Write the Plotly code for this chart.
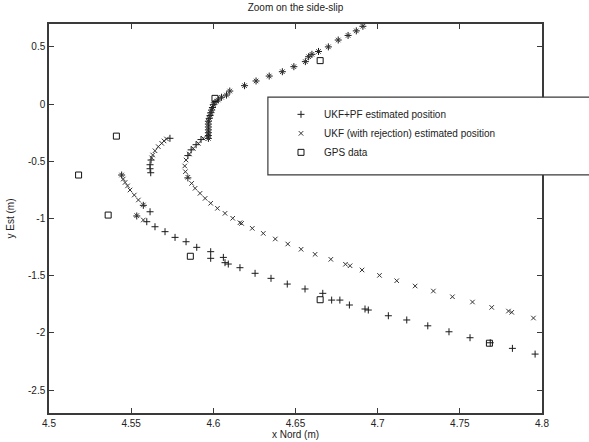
import plotly.graph_objects as go

# ---- data ----
top_x = [4.691, 4.687, 4.682, 4.676, 4.670, 4.664, 4.660, 4.658, 4.656, 4.649, 4.642,
         4.634, 4.626, 4.619, 4.610, 4.608, 4.605, 4.603, 4.601, 4.600, 4.5995, 4.599,
         4.5985, 4.598, 4.5975, 4.597, 4.597, 4.597, 4.597, 4.597, 4.597, 4.597]
top_y = [0.68, 0.64, 0.60, 0.56, 0.50, 0.46, 0.435, 0.414, 0.371, 0.327, 0.283,
         0.245, 0.202, 0.161, 0.114, 0.079, 0.06, 0.036, 0.016, -0.005, -0.03, -0.052,
         -0.075, -0.10, -0.125, -0.15, -0.175, -0.20, -0.225, -0.25, -0.275, -0.30]

ukfpf_x = top_x + [4.5925, 4.5895, 4.5865, 4.5845, 4.5845,
                   4.5736, 4.5621, 4.5615, 4.5615, 4.5619,
                   4.5442, 4.5574, 4.5615,
                   4.5534, 4.5595, 4.5645, 4.5706, 4.5767, 4.5834, 4.5899,
                   4.5984, 4.5984, 4.6061, 4.6071, 4.6091, 4.6162, 4.6254, 4.6351,
                   4.6450, 4.6558, 4.6666, 4.6720, 4.6770, 4.6828, 4.6923, 4.6943,
                   4.7065, 4.7177, 4.7305, 4.7434, 4.7562, 4.7685, 4.7820, 4.7958]
ukfpf_y = top_y + [-0.31, -0.355, -0.40, -0.45, -0.645,
                   -0.299, -0.489, -0.53, -0.565, -0.60,
                   -0.620, -0.885, -0.941,
                   -0.978, -1.028, -1.072, -1.115, -1.165, -1.203, -1.252,
                   -1.290, -1.348, -1.340, -1.386, -1.398, -1.430, -1.479, -1.523,
                   -1.573, -1.616, -1.654, -1.713, -1.713, -1.756, -1.791, -1.800,
                   -1.850, -1.887, -1.938, -1.990, -2.042, -2.086, -2.135, -2.185]

ukf_x = top_x + [4.5939, 4.5909, 4.5878, 4.5854, 4.5834, 4.5826, 4.5830, 4.5845,
                 4.5868, 4.5889, 4.5919, 4.5950, 4.5984, 4.6025, 4.6071, 4.6118,
                 4.6162, 4.6172, 4.6237, 4.6304, 4.6377, 4.6453, 4.6534, 4.6619,
                 4.6715, 4.6804, 4.6832, 4.6905, 4.7011, 4.7116, 4.7228, 4.7339,
                 4.7455, 4.7577, 4.7694, 4.7796, 4.7816, 4.7948,
                 4.5715, 4.5700, 4.5686, 4.5665, 4.5645, 4.5631, 4.5625,
                 4.5442, 4.5452, 4.5463, 4.5478, 4.5493, 4.5519, 4.5544, 4.5574,
                 4.5534, 4.5574]
ukf_y = top_y + [-0.299, -0.343, -0.387, -0.436, -0.489, -0.541, -0.591, -0.640,
                 -0.693, -0.736, -0.780, -0.824, -0.867, -0.911, -0.955, -0.998,
                 -1.037, -1.043, -1.086, -1.130, -1.179, -1.223, -1.269, -1.313,
                 -1.357, -1.400, -1.413, -1.450, -1.497, -1.544, -1.590, -1.634,
                 -1.684, -1.730, -1.777, -1.809, -1.820, -1.870,
                 -0.305, -0.322, -0.343, -0.372, -0.408, -0.445, -0.47,
                 -0.620, -0.655, -0.685, -0.715, -0.751, -0.795, -0.838, -0.882,
                 -0.975, -1.013]

gps_x = [4.518, 4.536, 4.541, 4.586, 4.601, 4.665, 4.665, 4.768]
gps_y = [-0.62, -0.97, -0.28, -1.33, 0.05, 0.38, -1.71, -2.09]

xticks = [4.5, 4.55, 4.6, 4.65, 4.7, 4.75, 4.8]
xticklabels = ["4.5", "4.55", "4.6", "4.65", "4.7", "4.75", "4.8"]
yticks = [-2.5, -2, -1.5, -1, -0.5, 0, 0.5]
yticklabels = ["-2.5", "-2", "-1.5", "-1", "-0.5", "0", "0.5"]

FONT = "Liberation Sans, Arial, sans-serif"

fig = go.Figure()
fig.add_trace(go.Scatter(x=ukfpf_x, y=ukfpf_y, mode="markers",
                         name="UKF+PF estimated position",
                         marker=dict(symbol="cross-thin", size=5,
                                     line=dict(width=1, color="#1a1a1a"))))
fig.add_trace(go.Scatter(x=ukf_x, y=ukf_y, mode="markers",
                         name="UKF (with rejection) estimated position",
                         marker=dict(symbol="x-thin", size=4.5,
                                     line=dict(width=1, color="#333333"))))
fig.add_trace(go.Scatter(x=gps_x, y=gps_y, mode="markers", name="GPS data",
                         marker=dict(symbol="square-open", size=6, color="#111111",
                                     line=dict(width=1, color="#111111"))))

axis_common = dict(showline=True, linecolor="#3a3a3a", linewidth=1.5, mirror="ticks",
                   ticks="inside", ticklen=5, tickcolor="#3a3a3a", tickwidth=1,
                   showgrid=False, zeroline=False,
                   tickfont=dict(family=FONT, size=10, color="#222"))

fig.update_layout(
    width=589, height=442,
    margin=dict(l=49, r=47, t=24, b=29),
    paper_bgcolor="white", plot_bgcolor="white",
    font=dict(family=FONT, size=10, color="#222"),
    title=dict(text="Zoom on the side-slip", x=0.5, xref="paper",
               y=0.982, yref="container", yanchor="middle",
               font=dict(family=FONT, size=10, color="#222")),
    xaxis=dict(range=[4.5, 4.8], tickvals=xticks, ticktext=xticklabels,
               title=dict(text="x Nord (m)", standoff=2,
                          font=dict(family=FONT, size=10, color="#222")),
               automargin=False, **axis_common),
    yaxis=dict(range=[-2.7, 0.7], tickvals=yticks, ticktext=yticklabels,
               title=dict(text="y Est (m)", standoff=12,
                          font=dict(family=FONT, size=10, color="#222")),
               automargin=False, **axis_common),
    showlegend=True,
    legend=dict(x=0.4645, y=0.805, xanchor="left", yanchor="top",
                bgcolor="rgba(0,0,0,0)", borderwidth=0,
                font=dict(family=FONT, size=10, color="#222"),
                itemwidth=36),
    shapes=[dict(type="rect", xref="paper", yref="paper",
                 x0=0.444, x1=1.2, y0=0.612, y1=0.812,
                 fillcolor="white", line=dict(color="#3a3a3a", width=1.2),
                 layer="above")],
)

fig.write_html("out.html")
